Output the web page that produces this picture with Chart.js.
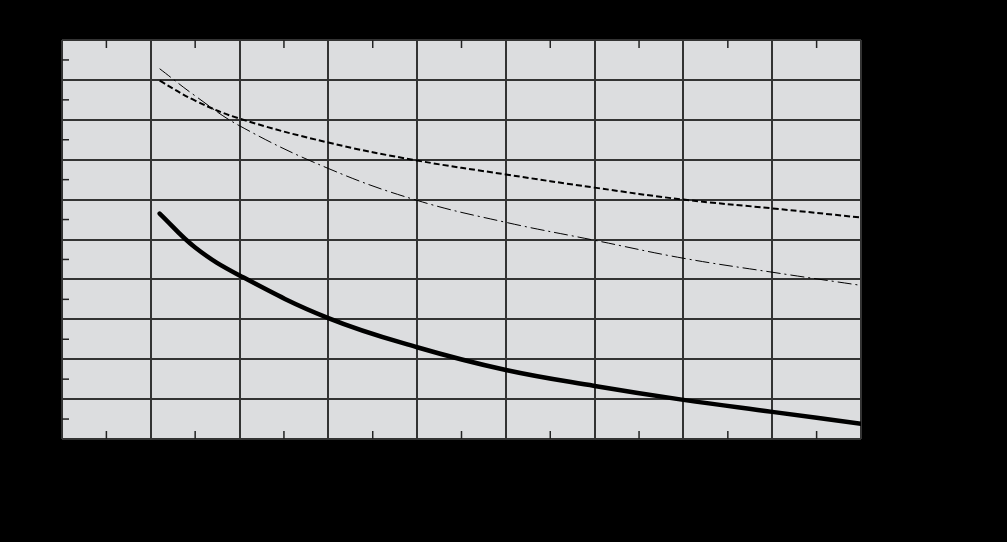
<!DOCTYPE html>
<html>
<head>
<meta charset="utf-8">
<script src="https://cdn.jsdelivr.net/npm/chart.js@4"></script>
<style>
  html, body { margin: 0; padding: 0; background: #000; }
  #wrap { width: 1007px; height: 542px; }
</style>
</head>
<body>
<div id="wrap"><canvas id="grafico"></canvas></div>
<script>
const xVals = [1.1, 1.5, 2, 3, 4, 5, 6, 7, 8, 9];
const solida = [5.65, 4.8, 4.1, 3.03, 2.3, 1.73, 1.33, 0.98, 0.68, 0.38];
const discontinua = [8.98, 8.48, 8.03, 7.43, 6.98, 6.63, 6.3, 6.0, 5.78, 5.55];
const puntoRaya = [9.28, 8.6, 7.85, 6.78, 5.98, 5.43, 4.98, 4.53, 4.18, 3.85];

const pares = arr => arr.map((v, i) => ({ x: xVals[i], y: v }));

// fondo gris y marcas menores hacia adentro
const fondoYMarcas = {
  id: 'fondoYMarcas',
  beforeDraw(chart) {
    const { ctx, chartArea: a } = chart;
    ctx.save();
    ctx.fillStyle = '#dcdddf';
    ctx.fillRect(a.left, a.top, a.right - a.left, a.bottom - a.top);
    ctx.restore();
  },
  afterDatasetsDraw(chart) {
    const { ctx, chartArea: a, scales } = chart;
    ctx.save();
    ctx.strokeStyle = '#222';
    ctx.lineWidth = 1.5;
    for (let v = 0.5; v < 10; v += 1) {
      const y = scales.y.getPixelForValue(v);
      ctx.beginPath(); ctx.moveTo(a.left, y); ctx.lineTo(a.left + 7, y); ctx.stroke();
    }
    for (let v = 0.5; v < 9; v += 1) {
      const x = scales.x.getPixelForValue(v);
      ctx.beginPath(); ctx.moveTo(x, a.bottom); ctx.lineTo(x, a.bottom - 8); ctx.stroke();
      ctx.beginPath(); ctx.moveTo(x, a.top); ctx.lineTo(x, a.top + 8); ctx.stroke();
    }
    ctx.restore();
  }
};

new Chart(document.getElementById('grafico'), {
  type: 'line',
  data: {
    datasets: [
      { data: pares(solida), borderColor: '#000', borderWidth: 4.5, tension: 0.4, pointRadius: 0, borderCapStyle: 'round' },
      { data: pares(discontinua), borderColor: '#000', borderWidth: 2, borderDash: [6, 3], tension: 0.4, pointRadius: 0 },
      { data: pares(puntoRaya), borderColor: '#000', borderWidth: 1, borderDash: [14, 4, 2, 4], tension: 0.4, pointRadius: 0 }
    ]
  },
  options: {
    responsive: true,
    maintainAspectRatio: false,
    animation: false,
    layout: { padding: { left: 62, top: 40, right: 146, bottom: 103 } },
    plugins: { legend: { display: false }, tooltip: { enabled: false } },
    scales: {
      x: {
        type: 'linear', min: 0, max: 9,
        ticks: { display: false, stepSize: 1 },
        grid: { color: '#333', lineWidth: 2, drawTicks: false },
        border: { display: false }
      },
      y: {
        min: 0, max: 10,
        ticks: { display: false, stepSize: 1 },
        grid: { color: '#333', lineWidth: 2, drawTicks: false },
        border: { display: false }
      }
    }
  },
  plugins: [fondoYMarcas]
});
</script>
</body>
</html>
